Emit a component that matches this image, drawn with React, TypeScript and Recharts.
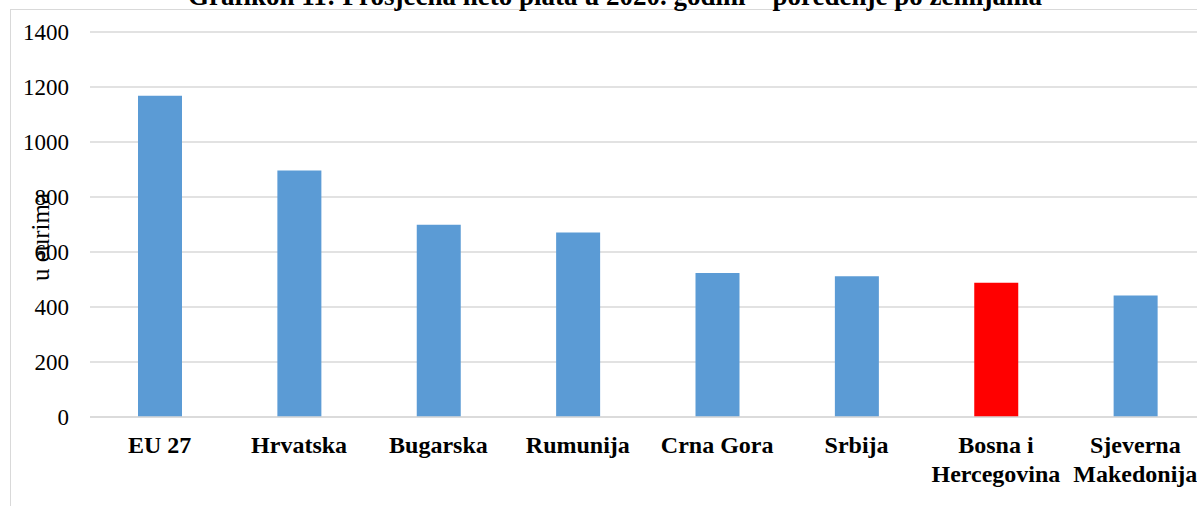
import React from 'react'
import { BarChart, Bar, XAxis, YAxis, CartesianGrid, Cell } from 'recharts'

const CATEGORIES = [
  'EU 27',
  'Hrvatska',
  'Bugarska',
  'Rumunija',
  'Crna Gora',
  'Srbija',
  'Bosna i\nHercegovina',
  'Sjeverna\nMakedonija',
]
const VALUES = [1168, 896, 699, 671, 524, 512, 488, 442]
const Y_TICKS = [0, 200, 400, 600, 800, 1000, 1200, 1400]
const HIGHLIGHT = 'Bosna i\nHercegovina'

const TITLE = 'Grafikon 11: Prosječna neto plata u 2020. godini – poređenje po zemljama'
const Y_LABEL = 'u eurima'

const SERIF = '"Liberation Serif", "Times New Roman", serif'
const BLUE = '#5b9bd5'
const RED = '#ff0000'
const GRID = '#d9d9d9'

const data = CATEGORIES.map((name, i) => ({ name, value: VALUES[i] }))

function CategoryTick({ x, y, payload }: any) {
  const lines = String(payload.value).split('\n')
  return (
    <text
      x={x}
      y={y + 36}
      textAnchor="middle"
      fontFamily={SERIF}
      fontWeight="bold"
      fontSize={24}
      fill="#000"
    >
      {lines.map((l, i) => (
        <tspan key={i} x={x} dy={i === 0 ? 0 : 29}>
          {l}
        </tspan>
      ))}
    </text>
  )
}

export default function App() {
  return (
    <div
      style={{
        position: 'absolute',
        left: 0,
        top: 0,
        width: 1197,
        height: 506,
        overflow: 'hidden',
        background: '#fff',
      }}
    >
      {/* chart frame, cut off at the right and bottom */}
      <div
        style={{
          position: 'absolute',
          left: 10,
          top: 9,
          width: 1400,
          height: 700,
          border: `1px solid ${GRID}`,
        }}
      />
      <div style={{ position: 'absolute', left: 0, top: 0 }}>
        <BarChart
          width={1206}
          height={506}
          data={data}
          margin={{ top: 32, right: 1, bottom: 0, left: 10 }}
        >
          <CartesianGrid vertical={false} stroke={GRID} strokeWidth={1.5} />
          <XAxis
            dataKey="name"
            height={89}
            tickLine={false}
            tickSize={0}
            tickMargin={0}
            axisLine={{ stroke: GRID, strokeWidth: 1.5 }}
            interval={0}
            tick={<CategoryTick />}
          />
          <YAxis
            width={80}
            domain={[0, 1400]}
            ticks={Y_TICKS}
            axisLine={false}
            tickLine={false}
            tickSize={0}
            tickMargin={21}
            tick={{ fontSize: 23, fill: '#000', fontFamily: SERIF }}
          />
          <Bar dataKey="value" barSize={44} isAnimationActive={false}>
            {data.map((d, i) => (
              <Cell key={i} fill={d.name === HIGHLIGHT ? RED : BLUE} />
            ))}
          </Bar>
        </BarChart>
      </div>
      <svg
        width={1197}
        height={506}
        style={{ position: 'absolute', left: 0, top: 0, pointerEvents: 'none' }}
      >
        <text
          x={615}
          y={5}
          textAnchor="middle"
          fontFamily={SERIF}
          fontWeight="bold"
          fontSize={27}
          fill="#000"
        >
          {TITLE}
        </text>
        <text
          transform="translate(49, 237) rotate(-90)"
          textAnchor="middle"
          fontFamily={SERIF}
          fontSize={25}
          fill="#000"
        >
          {Y_LABEL}
        </text>
      </svg>
    </div>
  )
}
